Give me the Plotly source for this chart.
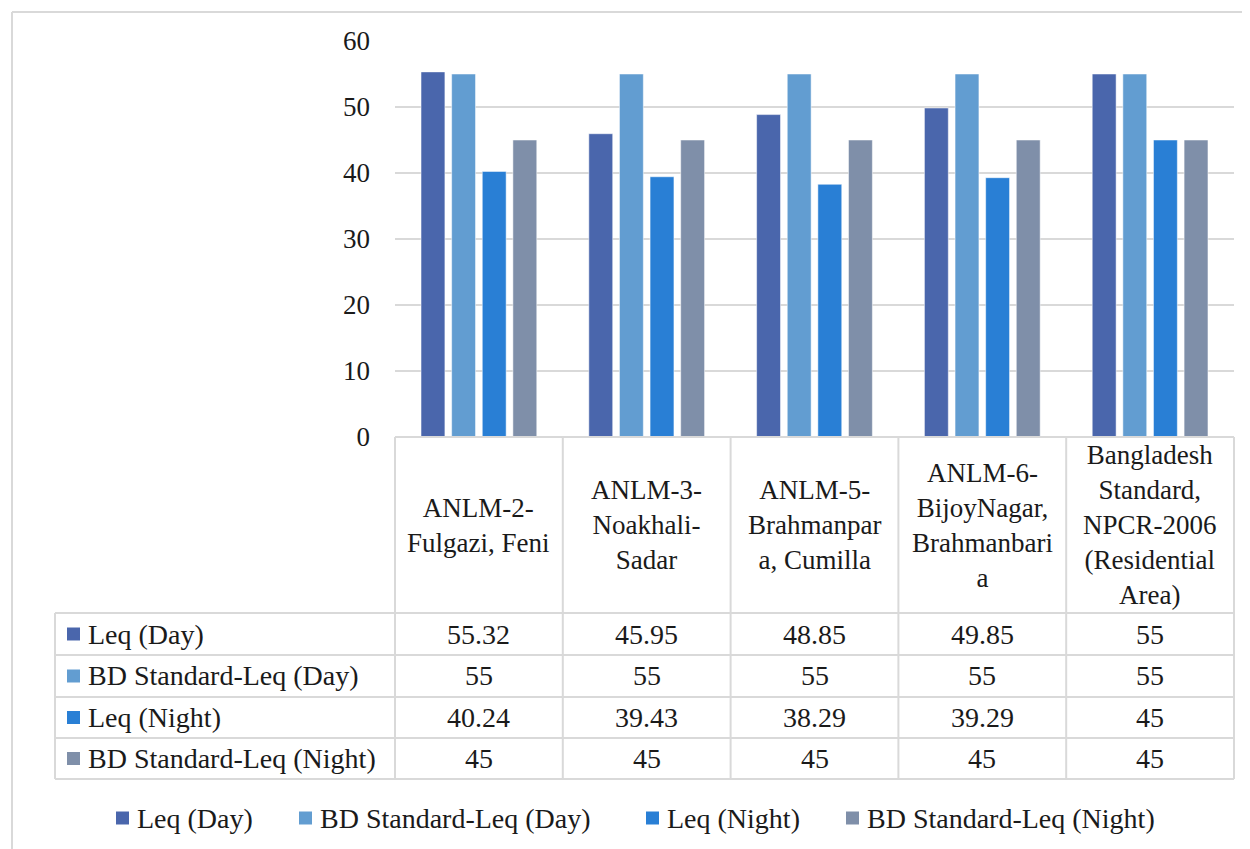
import plotly.graph_objects as go

# sites / table header labels
categories = [
    "ANLM-2-Fulgazi, Feni",
    "ANLM-3-Noakhali-Sadar",
    "ANLM-5-Brahmanpara, Cumilla",
    "ANLM-6-BijoyNagar, Brahmanbaria",
    "Bangladesh Standard, NPCR-2006 (Residential Area)",
]
header_labels = [
    "ANLM-2-<br>Fulgazi, Feni",
    "ANLM-3-<br>Noakhali-<br>Sadar",
    "ANLM-5-<br>Brahmanpar<br>a, Cumilla",
    "ANLM-6-<br>BijoyNagar,<br>Brahmanbari<br>a",
    "Bangladesh<br>Standard,<br>NPCR-2006<br>(Residential<br>Area)",
]

leq_day = [55.32, 45.95, 48.85, 49.85, 55]
bd_std_day = [55, 55, 55, 55, 55]
leq_night = [40.24, 39.43, 38.29, 39.29, 45]
bd_std_night = [45, 45, 45, 45, 45]

series_names = ["Leq (Day)", "BD Standard-Leq (Day)", "Leq (Night)", "BD Standard-Leq (Night)"]
series_values = [leq_day, bd_std_day, leq_night, bd_std_night]
series_colors = ["#4A66AC", "#629DD1", "#297FD5", "#7F8FA9"]

y_ticks = [0, 10, 20, 30, 40, 50, 60]

FONT = "Liberation Serif"
GRID = "#D9D9D9"
INK = "#1a1a1a"
OFF = 8  # page body margin
W, H = 1250 - OFF, 849 - OFF
L, R, T, B = 395 - OFF, 1250 - 1234, 41 - OFF, 849 - 437
PW, PH = W - L - R, H - T - B


def px_x(x):
    # reference pixel -> paper
    return (x - OFF - L) / PW


def px_y(y):
    return (H - B - (y - OFF)) / PH


fig = go.Figure()
for name, vals, col in zip(series_names, series_values, series_colors):
    fig.add_trace(go.Bar(
        x=categories, y=vals, name=name, showlegend=False,
        marker=dict(color=col, line=dict(color="rgba(255,255,255,0.5)", width=1)),
    ))

shapes = []
annotations = []
line = dict(color=GRID, width=2)

# outer chart border (top and left visible)
shapes.append(dict(type="line", xref="paper", yref="paper", x0=px_x(12), x1=px_x(1300),
                   y0=px_y(12), y1=px_y(12), line=line))
shapes.append(dict(type="line", xref="paper", yref="paper", x0=px_x(12), x1=px_x(12),
                   y0=px_y(12), y1=px_y(900), line=line))

# data table grid
row_edges = [437, 613, 655, 697, 738, 779]
n = len(categories)
shapes.append(dict(type="line", xref="paper", yref="paper", x0=0, x1=1,
                   y0=px_y(row_edges[0]), y1=px_y(row_edges[0]), line=line))
for ry in row_edges[1:]:
    shapes.append(dict(type="line", xref="paper", yref="paper", x0=px_x(55), x1=1,
                       y0=px_y(ry), y1=px_y(ry), line=line))
for i in range(n + 1):
    shapes.append(dict(type="line", xref="paper", yref="paper", x0=i / n, x1=i / n,
                       y0=px_y(row_edges[0]), y1=px_y(row_edges[-1]), line=line))
shapes.append(dict(type="line", xref="paper", yref="paper", x0=px_x(55), x1=px_x(55),
                   y0=px_y(row_edges[1]), y1=px_y(row_edges[-1]), line=line))

txt = dict(family=FONT, size=28, color=INK)
txt_head = dict(family=FONT, size=27, color=INK)

# header cells
for cat, lab in zip(categories, header_labels):
    annotations.append(dict(x=cat, xref="x", y=px_y((row_edges[0] + row_edges[1]) / 2), yref="paper",
                            text=lab, showarrow=False, font=txt_head, yanchor="middle"))

# value rows
for r, (name, vals, col) in enumerate(zip(series_names, series_values, series_colors)):
    yc = px_y((row_edges[r + 1] + row_edges[r + 2]) / 2)
    shapes.append(dict(type="rect", xref="paper", yref="paper", x0=px_x(67), x1=px_x(80),
                       y0=yc - 6.5 / PH, y1=yc + 6.5 / PH, fillcolor=col, line=dict(width=0)))
    annotations.append(dict(x=px_x(86), xref="paper", y=yc, yref="paper", text=name,
                            showarrow=False, font=txt, xanchor="left", yanchor="middle"))
    for cat, v in zip(categories, vals):
        annotations.append(dict(x=cat, xref="x", y=yc, yref="paper", text=f"{v:g}",
                                showarrow=False, font=txt, yanchor="middle"))

# legend below the table
leg_sq = [116, 299, 646, 846]
leg_y = px_y(818)
for name, col, sx in zip(series_names, series_colors, leg_sq):
    shapes.append(dict(type="rect", xref="paper", yref="paper", x0=px_x(sx), x1=px_x(sx + 13),
                       y0=leg_y - 6.5 / PH, y1=leg_y + 6.5 / PH, fillcolor=col, line=dict(width=0)))
    annotations.append(dict(x=px_x(sx + 19), xref="paper", y=leg_y, yref="paper", text=name,
                            showarrow=False, font=txt, xanchor="left", yanchor="middle"))

fig.update_layout(
    width=W, height=H,
    margin=dict(l=L, r=R, t=T, b=B, autoexpand=False),
    paper_bgcolor="white", plot_bgcolor="white",
    barmode="group", bargap=0.27, bargroupgap=0.22,
    font=dict(family=FONT, size=27, color=INK),
    showlegend=False,
    xaxis=dict(range=[-0.5, n - 0.5], showticklabels=False, showgrid=False, zeroline=False,
               showline=False, fixedrange=True),
    yaxis=dict(range=[0, 60], tickvals=y_ticks, showgrid=True, gridcolor=GRID, gridwidth=2,
               zeroline=False, showline=False, ticks="", ticklabelstandoff=24,
               tickfont=dict(family=FONT, size=27, color=INK)),
    shapes=shapes, annotations=annotations,
)

fig.write_html("out.html")
